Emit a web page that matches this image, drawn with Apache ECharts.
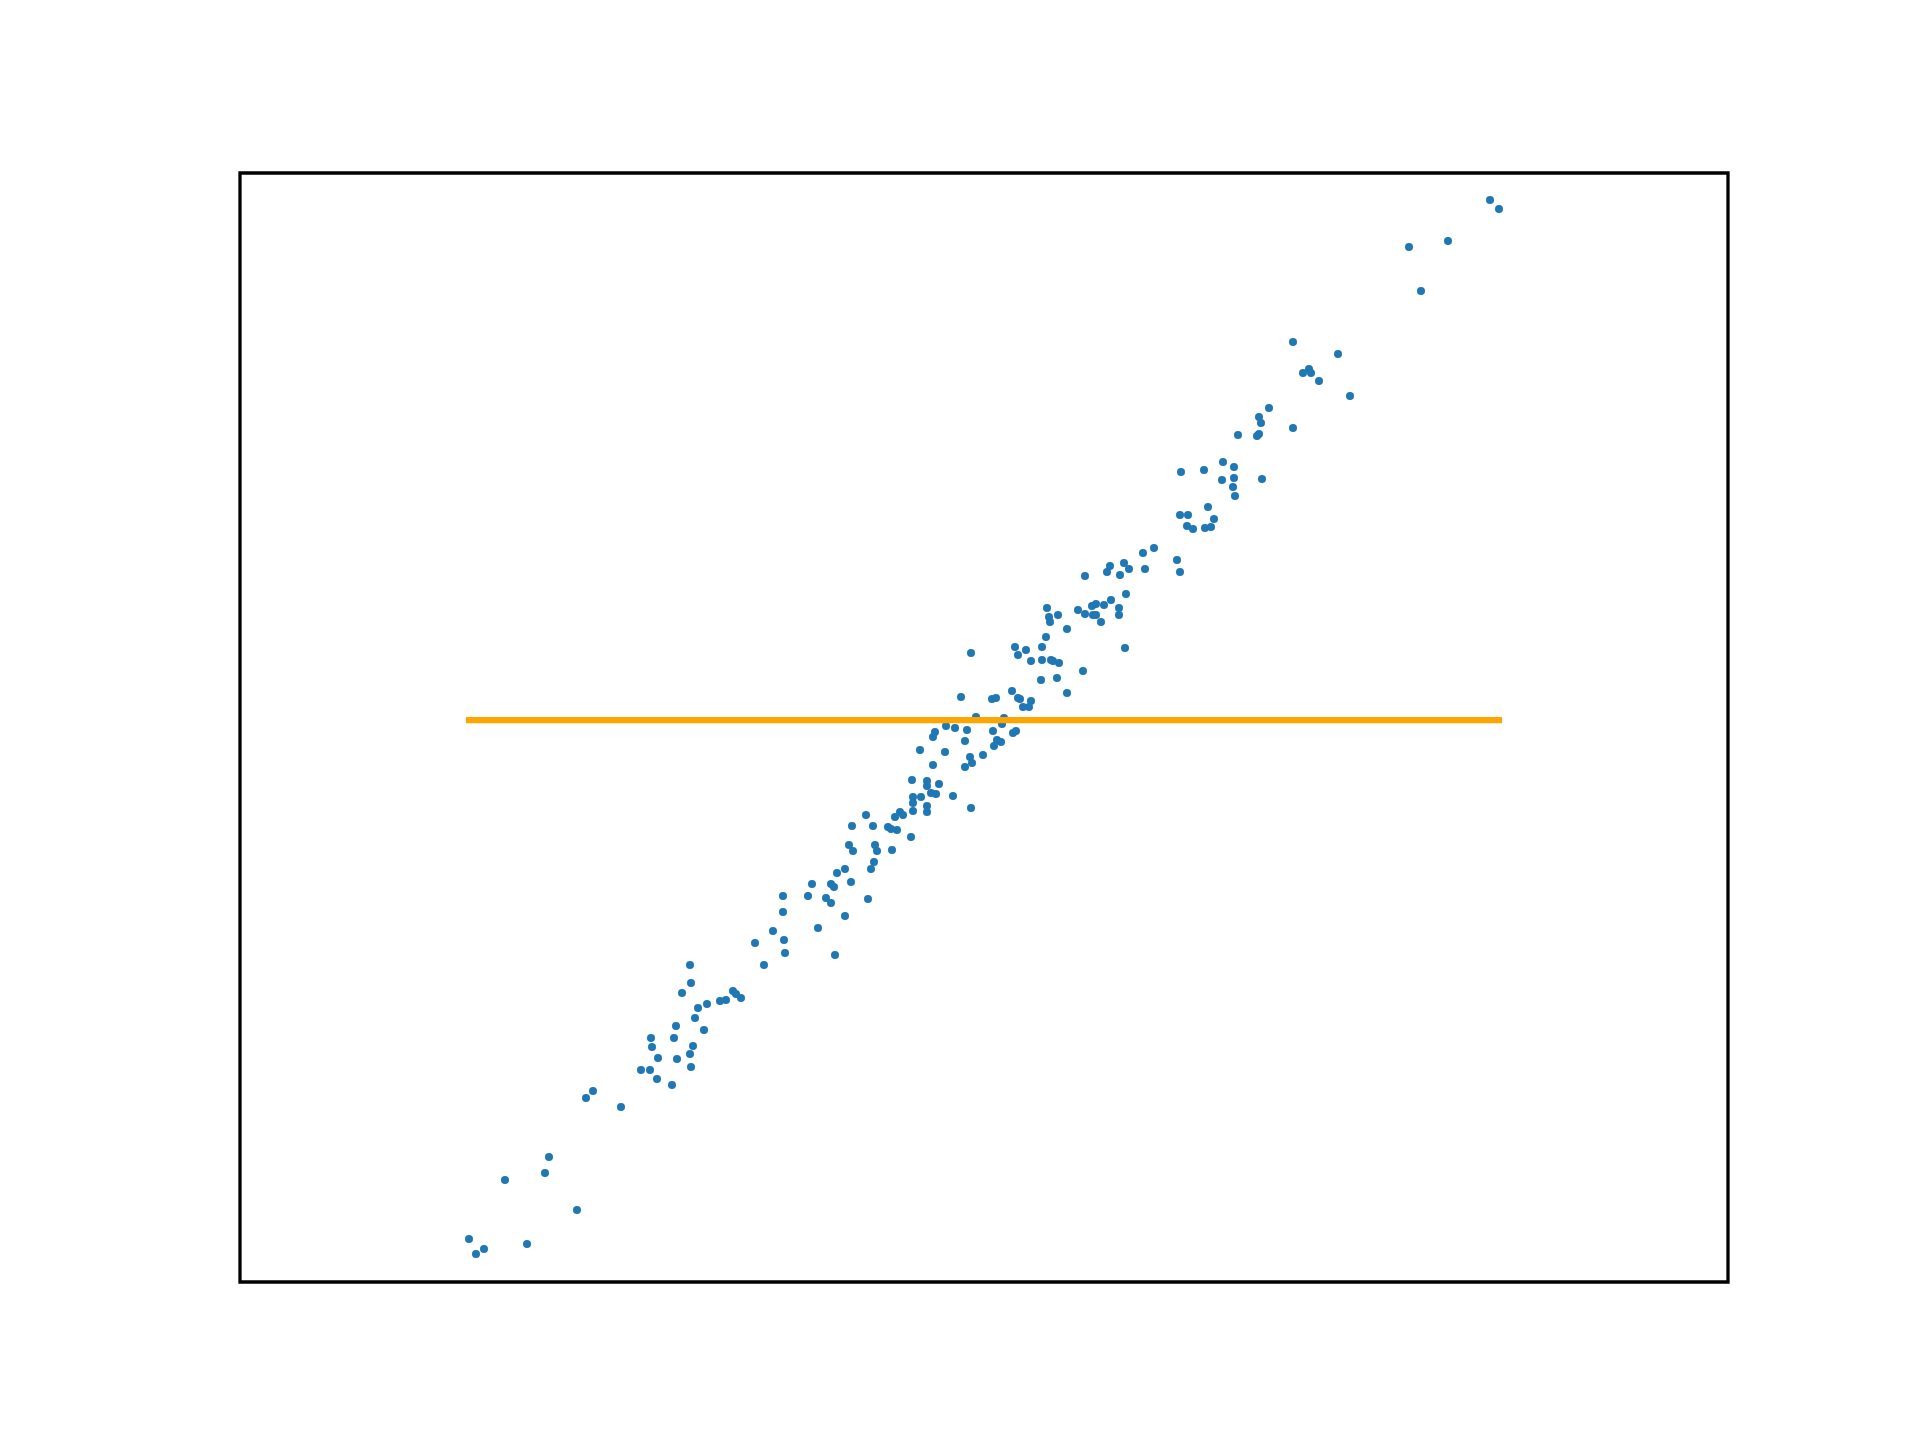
<!DOCTYPE html>
<html>
<head>
<meta charset="utf-8">
<script src="https://cdn.jsdelivr.net/npm/echarts@6/dist/echarts.min.js"></script>
<style>
html,body{margin:0;padding:0;background:#fff;}
#chart{width:1920px;height:1440px;}
</style>
</head>
<body>
<div id="chart"></div>
<script>
// Scatter points (x, y) (y grows downward in these units)
var xs = [
593,586,621,549,545,505,577,469,484,476,527,
690,691,682,733,736,741,720,726,707,698,695,676,704,651,674,652,693,690,658,677,691,641,650,657,672,
852,849,853,845,837,851,812,831,834,783,808,826,831,783,845,818,773,755,784,785,835,764,
868,
971,961,976,946,955,967,935,933,965,920,945,970,972,965,933,912,927,927,939,931,936,921,913,953,913,927,971,927,913,900,903,895,866,873,888,891,897,911,875,877,892,874,871,
1047,1049,1058,1050,1046,1015,1026,1042,1018,1031,1042,1051,1053,1059,1041,1057,1012,992,996,1018,1020,1031,1023,1029,1004,1002,993,1013,1016,997,1001,994,983,
1154,1143,1110,1124,1107,1120,1129,1145,1085,1126,1111,1104,1096,1092,1078,1085,1093,1096,1119,1119,1101,1067,1125,1083,1067,
1269,1259,1261,1259,1257,1238,1223,1234,1204,1181,1234,1222,1262,1233,1235,1208,1180,1188,1214,1187,1193,1205,1211,1177,1180,
1293,1338,1309,1303,1311,1319,1350,1293,
1490,1499,1448,1409,1421
];
var ys = [
1091,1098,1107,1157,1173,1180,1210,1239,1249,1254,1244,
965,983,993,991,994,998,1001,1000,1004,1008,1018,1026,1030,1038,1038,1047,1046,1054,1058,1059,1067,1070,1070,1079,1085,
826,845,851,869,873,882,884,884,887,896,896,898,903,912,916,928,931,943,940,953,955,965,
899,
653,697,717,726,728,730,732,737,741,750,752,757,763,767,765,780,781,786,784,793,794,797,797,796,803,806,808,812,811,812,815,817,815,826,827,829,830,837,845,851,850,862,869,
608,617,615,622,637,647,650,647,655,661,660,660,661,663,680,678,691,699,698,698,699,701,707,707,718,724,731,733,731,740,742,746,755,
548,553,566,563,572,575,569,569,576,594,600,605,604,606,610,614,615,615,608,615,622,629,648,671,693,
408,417,423,434,436,435,462,467,470,472,478,480,479,487,496,507,515,515,519,526,529,528,527,560,572,
342,354,369,373,373,381,396,428,
200,209,241,247,291
];
// Horizontal mean line
var lineX = [469, 1499];
var lineY = [720, 720];

var scatterData = xs.map(function (x, i) { return [x, ys[i]]; });
var lineData = lineX.map(function (x, i) { return [x, lineY[i]]; });

var chart = echarts.init(document.getElementById('chart'), null, {renderer: 'canvas'});
chart.setOption({
  animation: false,
  backgroundColor: '#ffffff',
  grid: {
    left: 240, top: 173, width: 1488, height: 1109,
    show: true, borderColor: '#000000', borderWidth: 3.3, backgroundColor: '#ffffff'
  },
  xAxis: {
    type: 'value', min: 240, max: 1728,
    axisLine: {show: false}, axisTick: {show: false}, axisLabel: {show: false}, splitLine: {show: false}
  },
  yAxis: {
    type: 'value', min: 173, max: 1282, inverse: true,
    axisLine: {show: false}, axisTick: {show: false}, axisLabel: {show: false}, splitLine: {show: false}
  },
  series: [
    {
      type: 'scatter', data: scatterData, symbol: 'circle', symbolSize: 8, z: 2,
      itemStyle: {color: '#1f77b4', opacity: 1}
    },
    {
      type: 'line', data: lineData, symbol: 'none', z: 3,
      lineStyle: {color: '#ffa500', width: 6.25, cap: 'square'}
    }
  ]
});
</script>
</body>
</html>
